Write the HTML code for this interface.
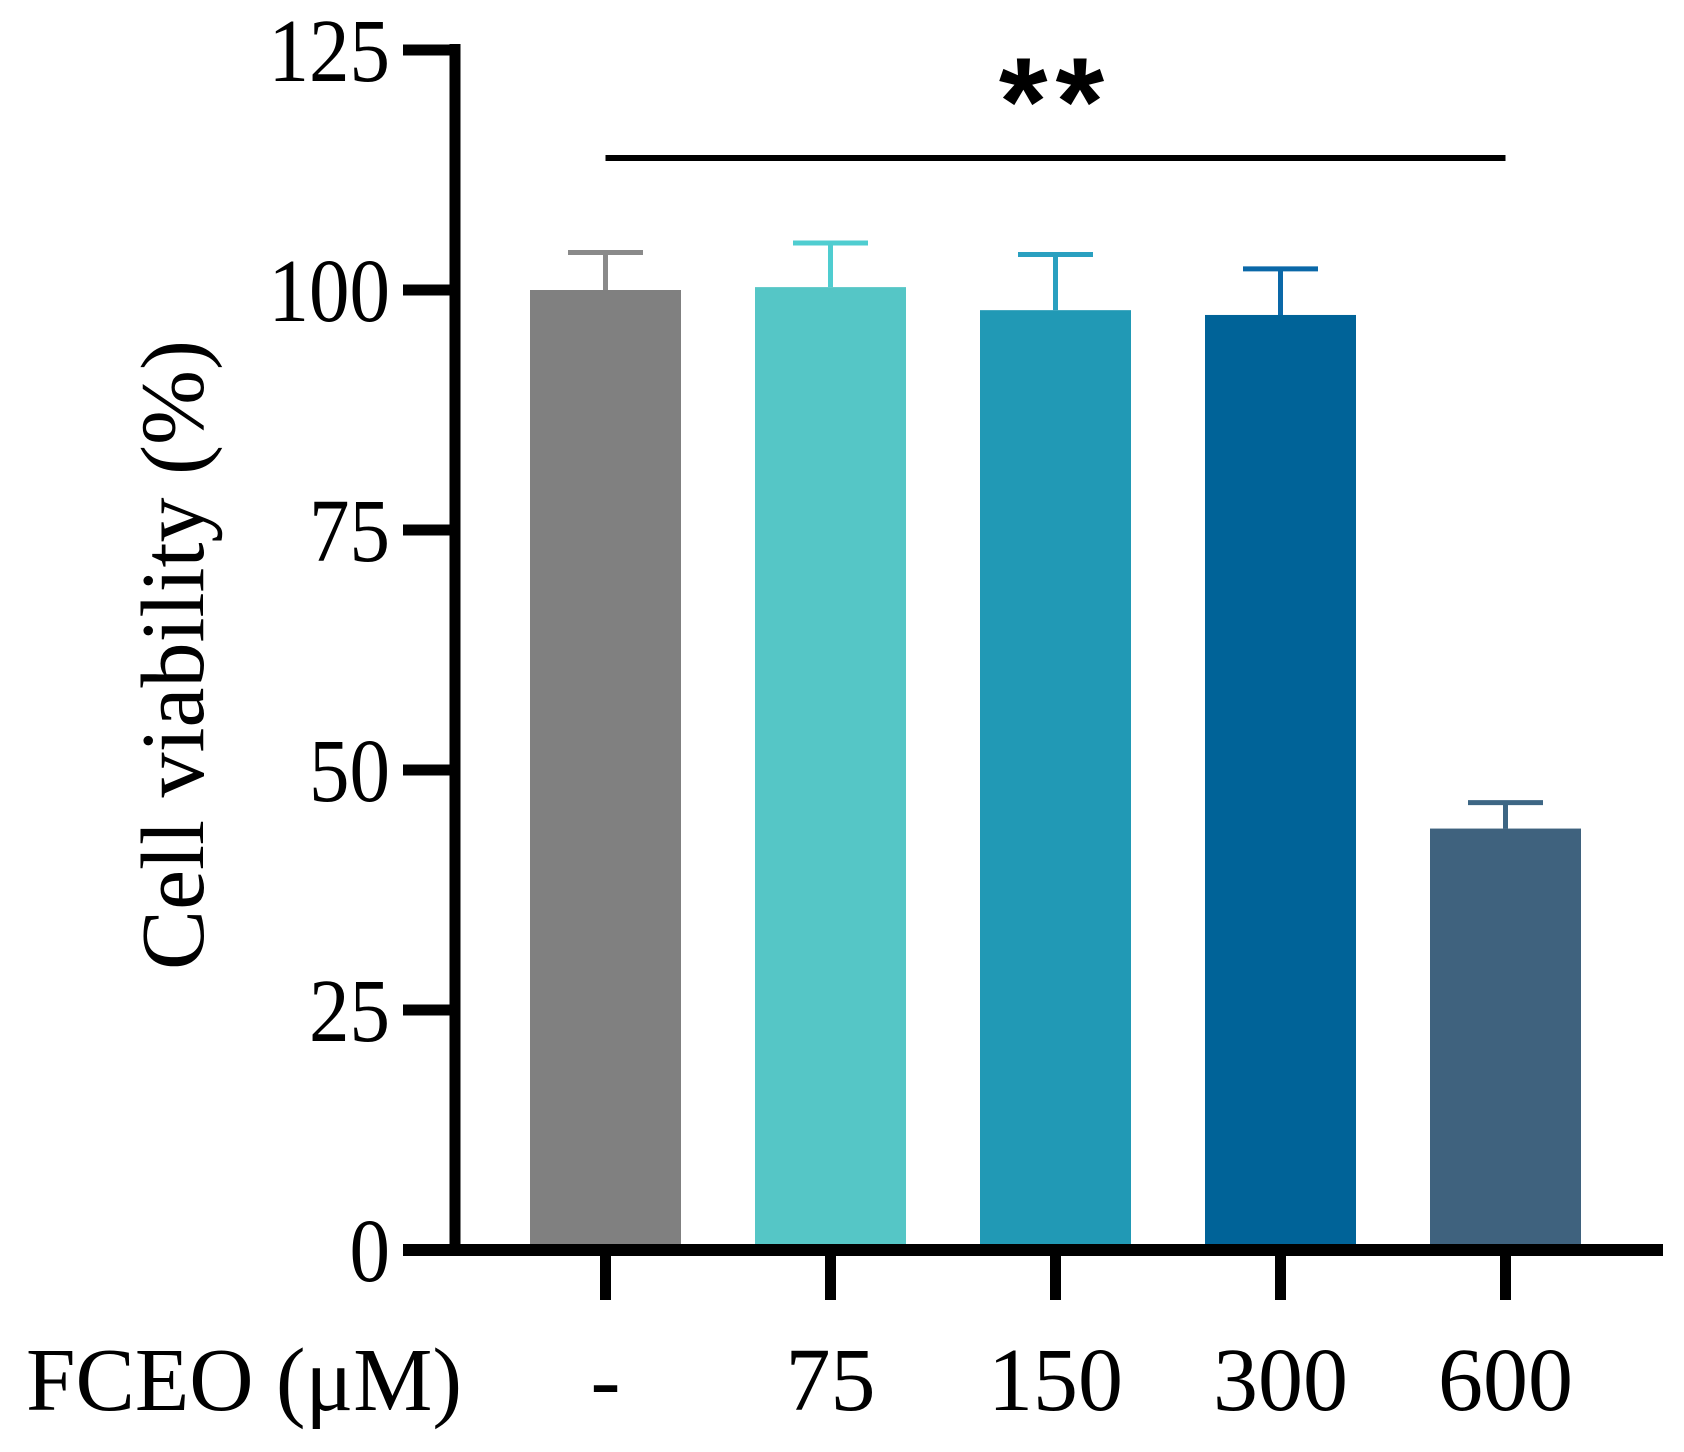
<!DOCTYPE html>
<html><head><meta charset="utf-8"><style>
html,body{margin:0;padding:0;background:#fff;}
svg{display:block;}
text{font-family:"Liberation Serif",serif;fill:#000;}
</style></head><body>
<svg id="chart" width="1684" height="1452" viewBox="0 0 1684 1452" xmlns="http://www.w3.org/2000/svg">
<g id="bars"></g>
<g id="axes"></g>
</svg>
<script>
const categories = ["-", "75", "150", "300", "600"];
const values = [100, 100.3, 97.9, 97.4, 43.9];
const errors = [3.9, 4.6, 5.8, 4.8, 2.7];
const colors = ["#808080", "#55C6C6", "#2199B5", "#006398", "#3F627E"];
const errColors = ["#8a8a8a", "#4fcdd0", "#2aa0c0", "#0a68a8", "#3d6684"];
const yTicks = [0, 25, 50, 75, 100, 125];

const NS = "http://www.w3.org/2000/svg";
const y0 = 1250, yScale = 9.6;
function y(v){ return y0 - v * yScale; }
function x(i){ return 605.5 + i * 225; }
const barW = 151, capW = 75;
function mk(tag, attrs, parent){
  const e = document.createElementNS(NS, tag);
  for (const k in attrs) e.setAttribute(k, attrs[k]);
  parent.appendChild(e);
  return e;
}
const bars = document.getElementById('bars');
const axes = document.getElementById('axes');

values.forEach((v, i) => {
  const r = mk('rect', {x: x(i) - barW/2, y: y(v), width: barW, height: y0 - y(v), fill: colors[i]}, bars);
  
  
  const top = y(v + errors[i]);
  const l = mk('line', {x1: x(i), x2: x(i), y1: y(v), y2: top, stroke: errColors[i], 'stroke-width': 5}, bars);
  
  
  const c = mk('line', {x1: x(i) - capW/2, x2: x(i) + capW/2, y1: top, y2: top, stroke: errColors[i], 'stroke-width': 5}, bars);
  
  
});

let e = mk('line', {x1: 455, x2: 455, y1: 44, y2: 1256, stroke: '#000', 'stroke-width': 11}, axes);


e = mk('line', {x1: 403, x2: 1663, y1: y0, y2: y0, stroke: '#000', 'stroke-width': 12}, axes);



yTicks.forEach(t => {
  const tk = mk('line', {x1: 403, x2: 455, y1: y(t), y2: y(t), stroke: '#000', 'stroke-width': 11}, axes);
  
  
  const lb = mk('text', {x: 390, y: y(t) + 31, 'text-anchor': 'end', 'font-size': 90, transform: 'translate(39,0) scale(0.9,1)'}, axes);
  lb.textContent = t;
  
  
});

categories.forEach((c, i) => {
  const tk = mk('line', {x1: x(i), x2: x(i), y1: y0, y2: 1300, stroke: '#000', 'stroke-width': 11}, axes);
  
  
  const lb = mk('text', {x: x(i), y: 1410, 'text-anchor': 'middle', 'font-size': 90}, axes);
  lb.textContent = c;
  
  
});

e = mk('text', {x: 26, y: 1410, 'font-size': 90, textLength: 436, lengthAdjust: 'spacingAndGlyphs'}, axes);
e.textContent = 'FCEO (μM)';



e = mk('text', {x: 0, y: 0, 'font-size': 90, 'text-anchor': 'middle', transform: 'translate(203,655) rotate(-90)'}, axes);
e.textContent = 'Cell viability (%)';



e = mk('line', {x1: x(0), x2: x(4), y1: 158, y2: 158, stroke: '#000', 'stroke-width': 6}, axes);



e = mk('text', {x: (x(0) + x(4)) / 2, y: 145, 'text-anchor': 'middle', 'font-size': 125, 'font-weight': 'bold', 'letter-spacing': 8, style: 'font-family:"Liberation Sans",sans-serif'}, axes);
e.textContent = '**';


</script>
</body></html>
